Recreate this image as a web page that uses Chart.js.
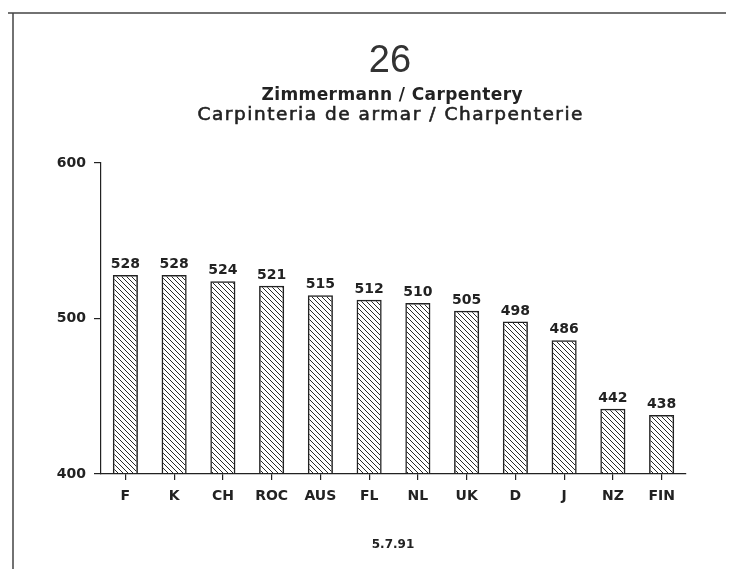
<!DOCTYPE html>
<html>
<head>
<meta charset="utf-8">
<script src="https://cdn.jsdelivr.net/npm/chart.js@4/dist/chart.umd.min.js"></script>
<style>
  html, body { margin: 0; padding: 0; background: #fff; }
  #wrap { position: relative; width: 730px; height: 569px; }
</style>
</head>
<body>
<div id="wrap"><canvas id="chart" width="730" height="569"></canvas></div>
<script>
// data
const countries = ['F', 'K', 'CH', 'ROC', 'AUS', 'FL', 'NL', 'UK', 'D', 'J', 'NZ', 'FIN'];
const scores = [528, 528, 524, 521, 515, 512, 510, 505, 498, 486, 442, 438];
const yTicks = [400, 500, 600];

const titleNumber = '26';
const titleLines = ['Zimmermann / Carpentery', 'Carpinteria de armar / Charpenterie'];
const dateNote = '5.7.91';

const INK = '#222';

// backslash hatch fill
function hatch() {
  const s = 5;
  const c = document.createElement('canvas');
  c.width = s; c.height = s;
  const g = c.getContext('2d');
  g.strokeStyle = '#2a2a2a';
  g.lineWidth = 1;
  for (let k = -1; k <= 1; k++) {
    g.beginPath();
    g.moveTo(k * s, 0);
    g.lineTo(k * s + s, s);
    g.stroke();
  }
  return g.createPattern(c, 'repeat');
}

// old plotter lettering is spaced wide, so stretch text to a given width
function spacedText(ctx, text, cx, y, width, stroke) {
  ctx.letterSpacing = '0px';
  const w = ctx.measureText(text).width;
  const gap = Math.max(0, (width - w) / (text.length - 1));
  ctx.letterSpacing = gap + 'px';
  ctx.textAlign = 'left';
  ctx.fillText(text, cx - width / 2, y);
  if (stroke) {
    ctx.lineWidth = stroke;
    ctx.strokeStyle = ctx.fillStyle;
    ctx.strokeText(text, cx - width / 2, y);
  }
  ctx.letterSpacing = '0px';
  ctx.textAlign = 'center';
}

// frame, titles, date and value labels
const decor = {
  id: 'decor',
  beforeDraw(chart) {
    const ctx = chart.ctx;
    ctx.save();
    ctx.fillStyle = '#fff';
    ctx.fillRect(0, 0, chart.width, chart.height);
    ctx.strokeStyle = '#444';
    ctx.lineWidth = 1.5;
    ctx.beginPath();
    ctx.moveTo(8, 13);
    ctx.lineTo(726, 13);
    ctx.moveTo(13, 13);
    ctx.lineTo(13, 569);
    ctx.stroke();

    ctx.textAlign = 'center';
    ctx.textBaseline = 'alphabetic';
    ctx.fillStyle = '#333';
    ctx.font = '38px "Liberation Sans", Arial, sans-serif';
    ctx.fillText(titleNumber, 390, 72);
    ctx.fillStyle = INK;
    ctx.font = 'bold 17px "DejaVu Sans", sans-serif';
    spacedText(ctx, titleLines[0], 392, 100, 261);
    ctx.font = '18.5px "DejaVu Sans", sans-serif';
    spacedText(ctx, titleLines[1], 390, 120, 385, 0.6);

    ctx.font = 'bold 12px "DejaVu Sans", sans-serif';
    ctx.fillText(dateNote, 393, 548);
    ctx.restore();
  },
  afterDatasetsDraw(chart) {
    const ctx = chart.ctx;
    const meta = chart.getDatasetMeta(0);
    ctx.save();
    ctx.fillStyle = INK;
    ctx.font = 'bold 14px "DejaVu Sans", sans-serif';
    ctx.textAlign = 'center';
    ctx.textBaseline = 'alphabetic';
    meta.data.forEach((bar, i) => {
      ctx.fillText(String(scores[i]), bar.x, bar.y - 7);
    });
    ctx.restore();
  }
};

new Chart(document.getElementById('chart'), {
  type: 'bar',
  data: {
    labels: countries,
    datasets: [{
      data: scores,
      backgroundColor: hatch(),
      borderColor: INK,
      borderWidth: 1.5,
      borderSkipped: false,
      barPercentage: 0.515,
      categoryPercentage: 1,
    }]
  },
  options: {
    responsive: false,
    animation: false,
    layout: { padding: { top: 163, right: 44, left: 0, bottom: 0 } },
    plugins: {
      legend: { display: false },
      tooltip: { enabled: false },
    },
    scales: {
      y: {
        min: 400,
        max: 600,
        afterFit(scale) { scale.width = 101; },
        afterBuildTicks(scale) { scale.ticks = yTicks.map(v => ({ value: v })); },
        grid: { drawOnChartArea: false, drawTicks: true, tickLength: 7, color: INK, lineWidth: 1.2 },
        border: { color: INK, width: 1.2 },
        ticks: {
          color: INK,
          padding: 8,
          font: { size: 14, weight: 'bold', family: '"DejaVu Sans", sans-serif' },
        },
      },
      x: {
        offset: true,
        afterFit(scale) { scale.height = 95; },
        grid: { drawOnChartArea: false, drawTicks: true, tickLength: 6, color: INK, lineWidth: 1.2, offset: false },
        border: { color: INK, width: 1.2 },
        ticks: {
          color: INK,
          padding: 8,
          font: { size: 14, weight: 'bold', family: '"DejaVu Sans", sans-serif' },
        },
      }
    }
  },
  plugins: [decor]
});
</script>
</body>
</html>
